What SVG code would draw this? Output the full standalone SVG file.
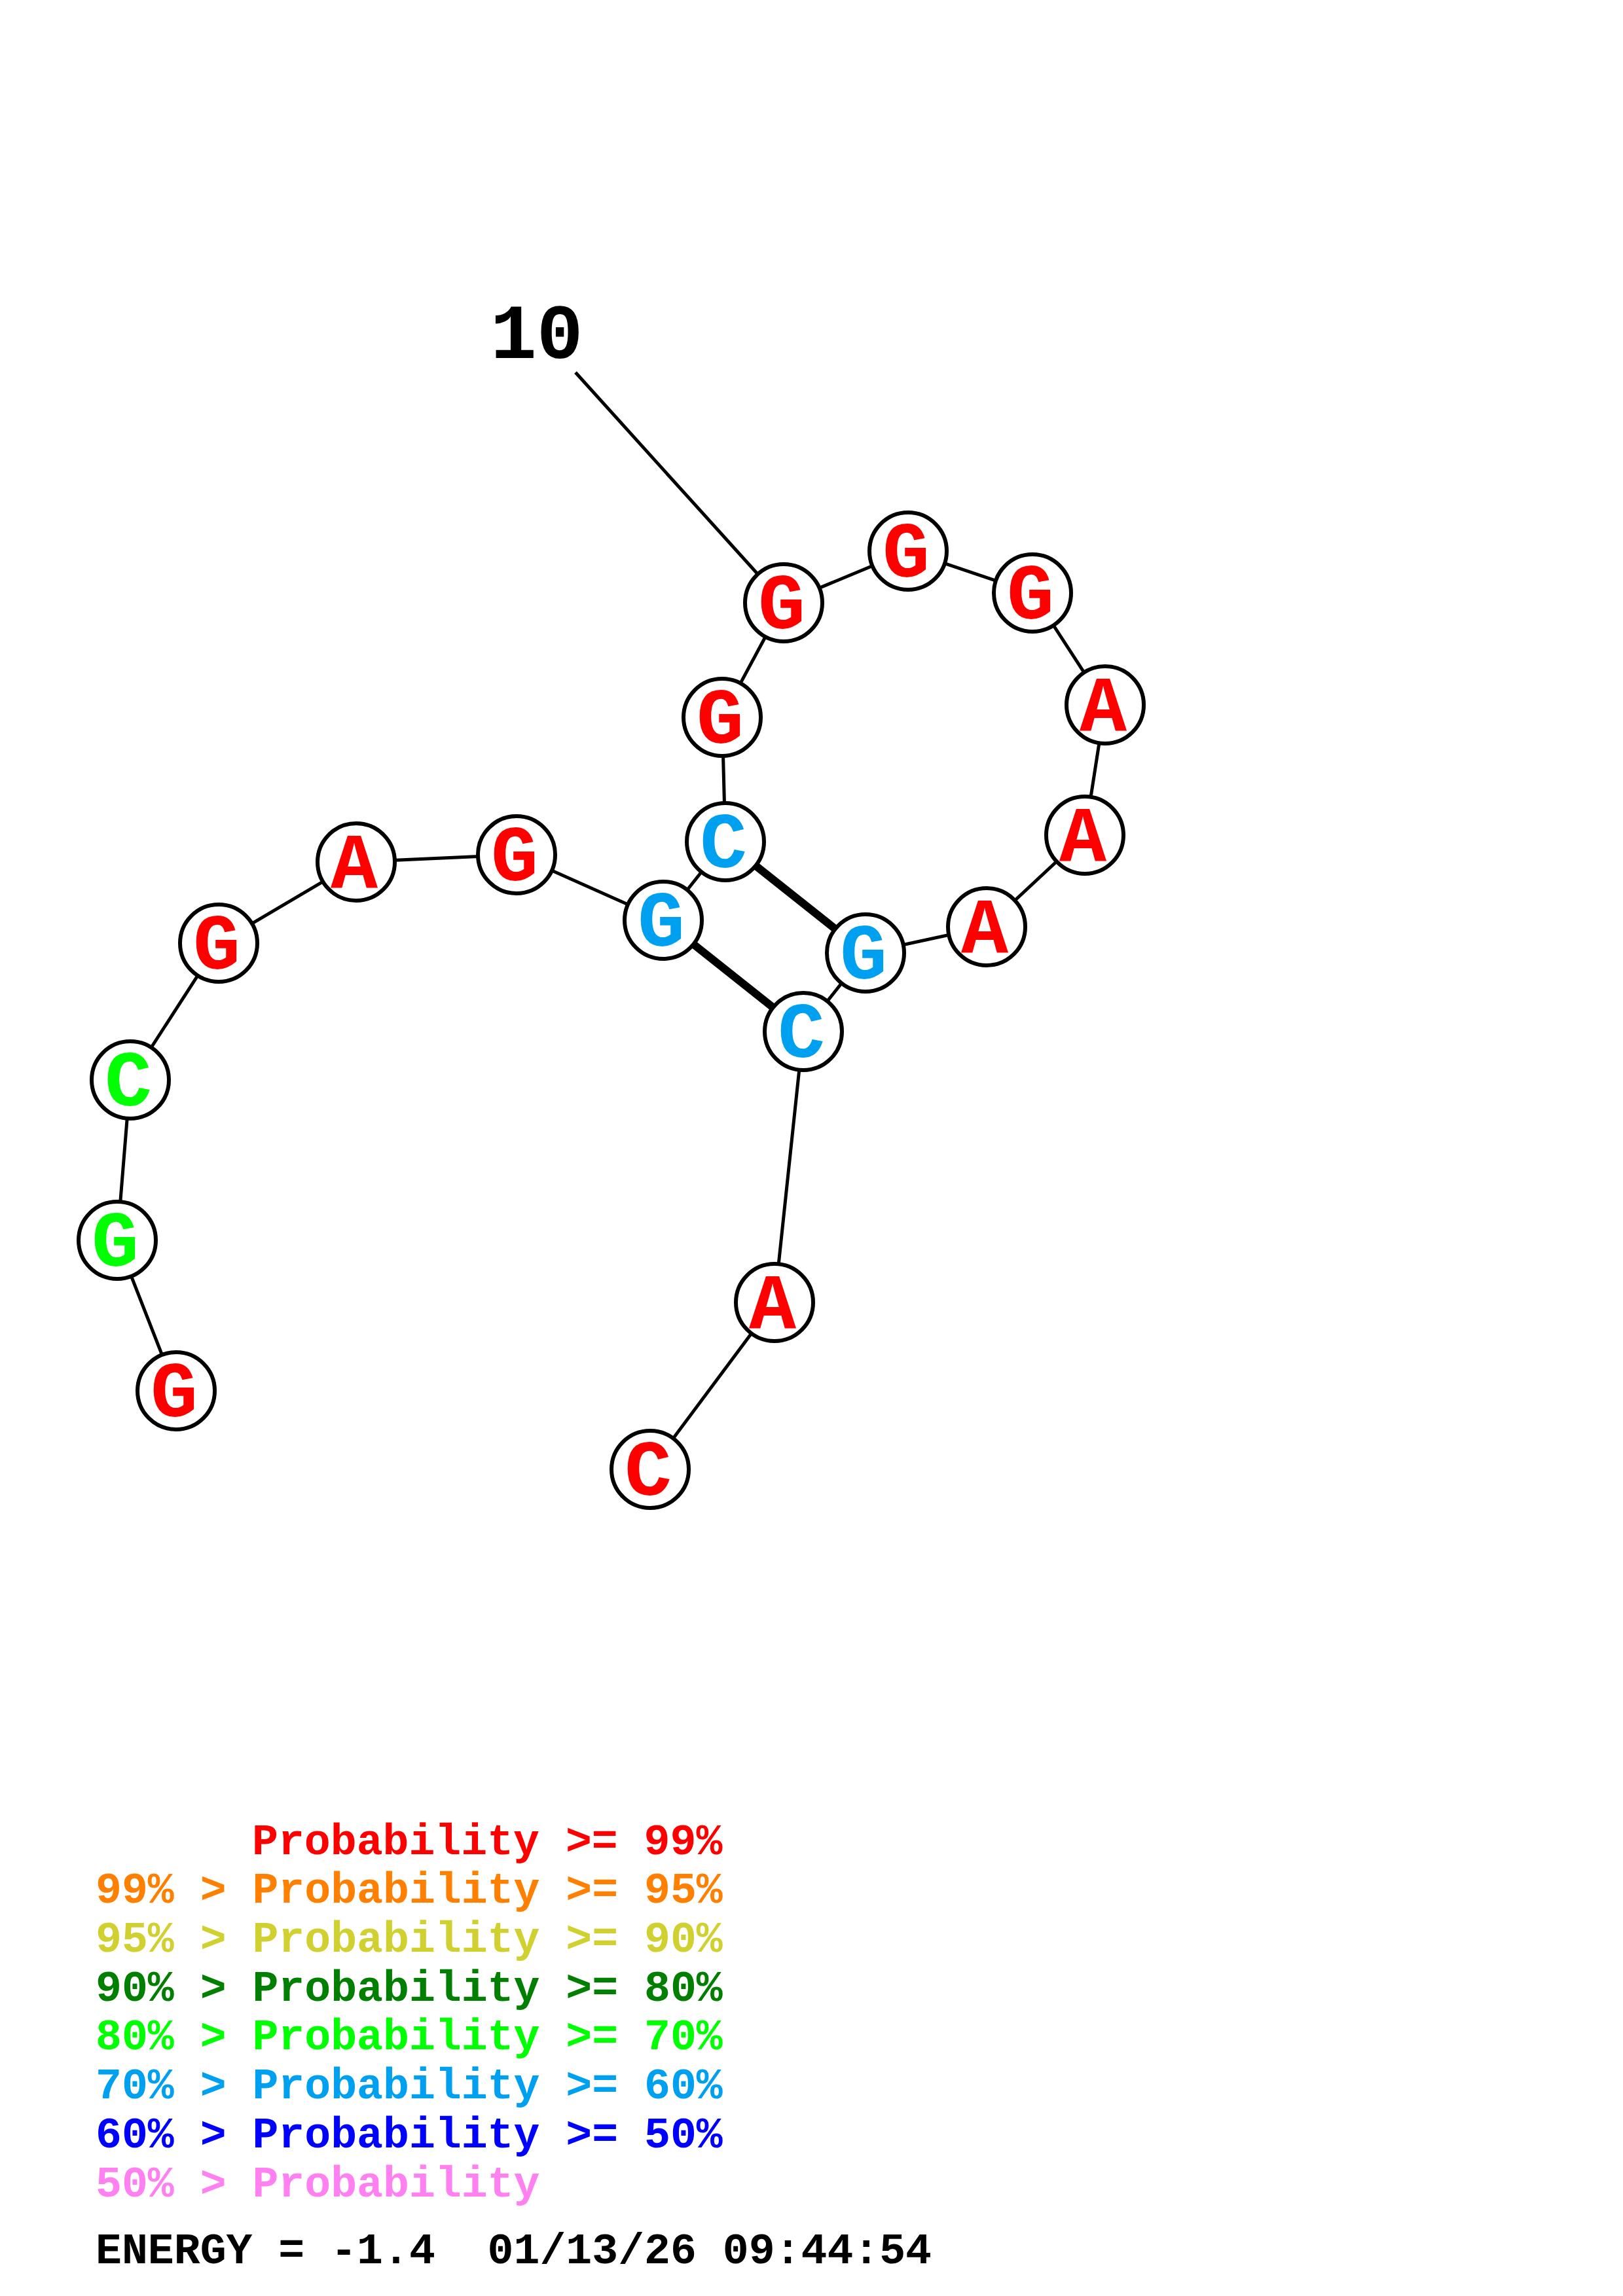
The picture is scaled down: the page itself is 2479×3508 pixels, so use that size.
<svg xmlns="http://www.w3.org/2000/svg" width="2479" height="3508" viewBox="0 0 2479 3508">
<style>
.bb{stroke:#000;stroke-width:5;fill:none;stroke-linecap:butt}
.bp{stroke:#000;stroke-width:12;fill:none}
.nc{fill:#fff;stroke:#000;stroke-width:6}
.nt{font-family:"Liberation Mono","Courier New",monospace;font-weight:bold;font-size:120px;text-anchor:middle}
.lg{font-family:"Liberation Mono","Courier New",monospace;font-weight:bold;font-size:66.5px}
.r{fill:#ff0000}.b{fill:#00a0f0}.g{fill:#00ff00}
</style>
<rect width="2479" height="3508" fill="#fff"/>
<g id="connectors">
<line class="bb" x1="879" y1="569" x2="1197" y2="921"/>
<polyline class="bb" points="269,2125 179,1895 199,1650 334,1441 544,1317 789,1306 1013,1406 1108,1286 1103,1096 1197,921 1387,842 1577,906 1688,1077 1657,1276 1507,1416 1322,1456 1227,1576 1183,1990 993,2245"/>
<line class="bp" x1="1108" y1="1286" x2="1322" y2="1456"/>
<line class="bp" x1="1013" y1="1406" x2="1227" y2="1576"/>
</g>
<text id="label10" x="749" y="547" style="font-family:'Liberation Mono','Courier New',monospace;font-weight:bold;font-size:118px">10</text>
<g id="n1"><circle class="nc" cx="269" cy="2125" r="59"/><text class="nt r" x="266" y="2164">G</text></g>
<g id="n2"><circle class="nc" cx="179" cy="1895" r="59"/><text class="nt g" x="176" y="1934">G</text></g>
<g id="n3"><circle class="nc" cx="199" cy="1650" r="59"/><text class="nt g" x="196" y="1689">C</text></g>
<g id="n4"><circle class="nc" cx="334" cy="1441" r="59"/><text class="nt r" x="331" y="1480">G</text></g>
<g id="n5"><circle class="nc" cx="544" cy="1317" r="59"/><text class="nt r" x="541" y="1356">A</text></g>
<g id="n6"><circle class="nc" cx="789" cy="1306" r="59"/><text class="nt r" x="786" y="1345">G</text></g>
<g id="n7"><circle class="nc" cx="1013" cy="1406" r="59"/><text class="nt b" x="1010" y="1445">G</text></g>
<g id="n8"><circle class="nc" cx="1108" cy="1286" r="59"/><text class="nt b" x="1105" y="1325">C</text></g>
<g id="n9"><circle class="nc" cx="1103" cy="1096" r="59"/><text class="nt r" x="1100" y="1135">G</text></g>
<g id="n10"><circle class="nc" cx="1197" cy="921" r="59"/><text class="nt r" x="1194" y="960">G</text></g>
<g id="n11"><circle class="nc" cx="1387" cy="842" r="59"/><text class="nt r" x="1384" y="881">G</text></g>
<g id="n12"><circle class="nc" cx="1577" cy="906" r="59"/><text class="nt r" x="1574" y="945">G</text></g>
<g id="n13"><circle class="nc" cx="1688" cy="1077" r="59"/><text class="nt r" x="1685" y="1116">A</text></g>
<g id="n14"><circle class="nc" cx="1657" cy="1276" r="59"/><text class="nt r" x="1654" y="1315">A</text></g>
<g id="n15"><circle class="nc" cx="1507" cy="1416" r="59"/><text class="nt r" x="1504" y="1455">A</text></g>
<g id="n16"><circle class="nc" cx="1322" cy="1456" r="59"/><text class="nt b" x="1319" y="1495">G</text></g>
<g id="n17"><circle class="nc" cx="1227" cy="1576" r="59"/><text class="nt b" x="1224" y="1615">C</text></g>
<g id="n18"><circle class="nc" cx="1183" cy="1990" r="59"/><text class="nt r" x="1180" y="2029">A</text></g>
<g id="n19"><circle class="nc" cx="993" cy="2245" r="59"/><text class="nt r" x="990" y="2284">C</text></g>
<g id="legend" class="lg">
<text x="385" y="2833" fill="#ff0000">Probability &gt;= 99%</text>
<text x="146" y="2907" fill="#ff8000">99% &gt; Probability &gt;= 95%</text>
<text x="146" y="2982" fill="#d0d030">95% &gt; Probability &gt;= 90%</text>
<text x="146" y="3057" fill="#007f00">90% &gt; Probability &gt;= 80%</text>
<text x="146" y="3131" fill="#00ff00">80% &gt; Probability &gt;= 70%</text>
<text x="146" y="3206" fill="#00a0f0">70% &gt; Probability &gt;= 60%</text>
<text x="146" y="3281" fill="#0000ff">60% &gt; Probability &gt;= 50%</text>
<text x="146" y="3356" fill="#ff80f0">50% &gt; Probability</text>
<text x="146" y="3458" fill="#000" xml:space="preserve">ENERGY = -1.4  01/13/26 09:44:54</text>
</g>
</svg>
